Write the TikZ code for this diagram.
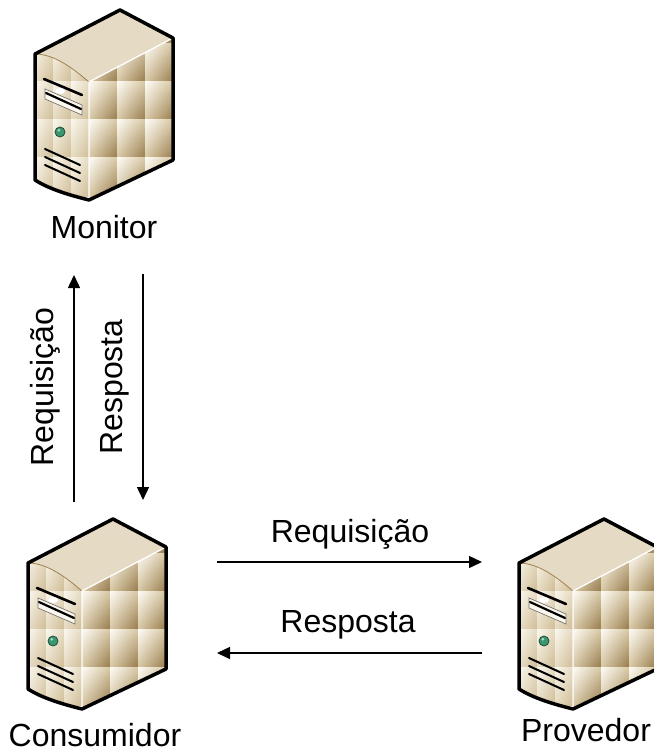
\documentclass[tikz,border=0pt]{standalone}
\usepackage{fontspec}
\setmainfont{Liberation Sans}
\usetikzlibrary{arrows.meta,shadings}

\definecolor{topface}{RGB}{229,219,196}
\definecolor{tilehi}{RGB}{253,251,246}
\definecolor{tilemid}{RGB}{216,200,164}
\definecolor{tiledk}{RGB}{150,122,76}
\definecolor{fronthi}{RGB}{250,247,238}
\definecolor{frontmid}{RGB}{230,219,194}
\definecolor{frontlo}{RGB}{206,188,150}
\definecolor{edgebrown}{RGB}{160,128,80}
\definecolor{ledgreen}{RGB}{58,150,112}
\definecolor{leddark}{RGB}{28,78,58}
\definecolor{baygray}{RGB}{120,116,108}

\tikzset{
  txt/.style={font=\fontsize{32}{38}\selectfont, inner sep=0pt},
  flow/.style={line width=1.4pt, -{Triangle[length=13pt,width=12pt]}},
  server/.pic={
    % side face with its tile grid
    \begin{scope}
      \clip (54,72) -- (138,28) -- (138,150) -- (54,190) -- cycle;
      \foreach \cx in {54,82,110}{
        \foreach \ry in {-4,34,72,110,148}{
          \shade[upper left=tilehi, upper right=tilemid,
                 lower left=tilemid, lower right=tiledk]
            (\cx,\ry) rectangle ++(28,38);
        }
      }
    \end{scope}
    % front face with its tile grid
    \begin{scope}
      \clip (0,44) .. controls (20,44) and (40,60) .. (54,72) -- (54,190)
            .. controls (34,185) and (14,179) .. (0,170) -- cycle;
      \foreach \cx in {0,18,36}{
        \foreach \ry in {-4,34,72,110,148}{
          \shade[upper left=fronthi, upper right=frontmid,
                 lower left=frontmid, lower right=frontlo]
            (\cx,\ry) rectangle ++(18,38);
        }
      }
    \end{scope}
    % top face
    \fill[topface] (0,44) -- (85,0) -- (138,28) -- (54,72)
          .. controls (40,60) and (20,44) .. (0,44) -- cycle;
    \draw[edgebrown, line width=0.8pt] (0,44) .. controls (20,44) and (40,60) .. (54,72);
    \draw[white, line width=1.3pt] (138,28) -- (54,72) -- (54,190);
    % front panel details: drive bay, power light, vents
    \draw[line width=2.6pt, line cap=round] (9,69) -- (47,85);
    \filldraw[fill=fronthi, draw=baygray, line width=0.7pt]
      (10,79) -- (47,95) -- (47,105) -- (10,89) -- cycle;
    \draw[line width=2.2pt, line cap=round] (11,83) -- (46,99);
    \fill[white] (25,81) ellipse[x radius=5pt, y radius=3pt];
    \filldraw[fill=ledgreen, draw=leddark, line width=0.8pt] (25,122) circle[radius=5pt];
    \fill[white, opacity=0.6] (23.8,120.3) circle[radius=1.5pt];
    \foreach \vy in {0,8,16}{
      \draw[line width=2pt, line cap=round] (10,139+\vy) -- (45,155+\vy);
    }
    % outline
    \draw[line width=3.5pt, line join=round]
      (0,44) -- (85,0) -- (138,28) -- (138,150) -- (54,190)
      .. controls (34,185) and (14,179) .. (0,170) -- cycle;
  }
}

\begin{document}
\begin{tikzpicture}[x=1pt, y=-1pt]
  \useasboundingbox (0,0) rectangle (653,754);

  % the three machines
  \pic (monitor) at (35,10) {server};
  \pic (consumidor) at (28,519) {server};
  \pic (provedor) at (519,519) {server};

  \node[txt, anchor=base] (monitorlbl) at (104,238) {Monitor};
  \node[txt, anchor=base] (consumidorlbl) at (95,746) {Consumidor};
  \node[txt, anchor=base] (provedorlbl) at (586,741) {Provedor};

  % consumer <-> monitor
  \coordinate (reqUpFrom) at (74,502);
  \coordinate (reqUpTo) at (74,275);
  \coordinate (resDnFrom) at (143,274);
  \coordinate (resDnTo) at (143,500);
  \draw[flow] (reqUpFrom) -- (reqUpTo);
  \draw[flow] (resDnFrom) -- (resDnTo);
  \node[txt, rotate=90, anchor=base] (reqUpLbl) at (53,387) {Requisição};
  \node[txt, rotate=90, anchor=base] (resDnLbl) at (122,387) {Resposta};

  % consumer <-> provider
  \coordinate (reqRtFrom) at (217,562);
  \coordinate (reqRtTo) at (482,562);
  \coordinate (resLtFrom) at (482,653);
  \coordinate (resLtTo) at (217,653);
  \draw[flow] (reqRtFrom) -- (reqRtTo);
  \draw[flow] (resLtFrom) -- (resLtTo);
  \node[txt, anchor=base] (reqRtLbl) at (350,542) {Requisição};
  \node[txt, anchor=base] (resLtLbl) at (348,632) {Resposta};
\end{tikzpicture}
\end{document}
